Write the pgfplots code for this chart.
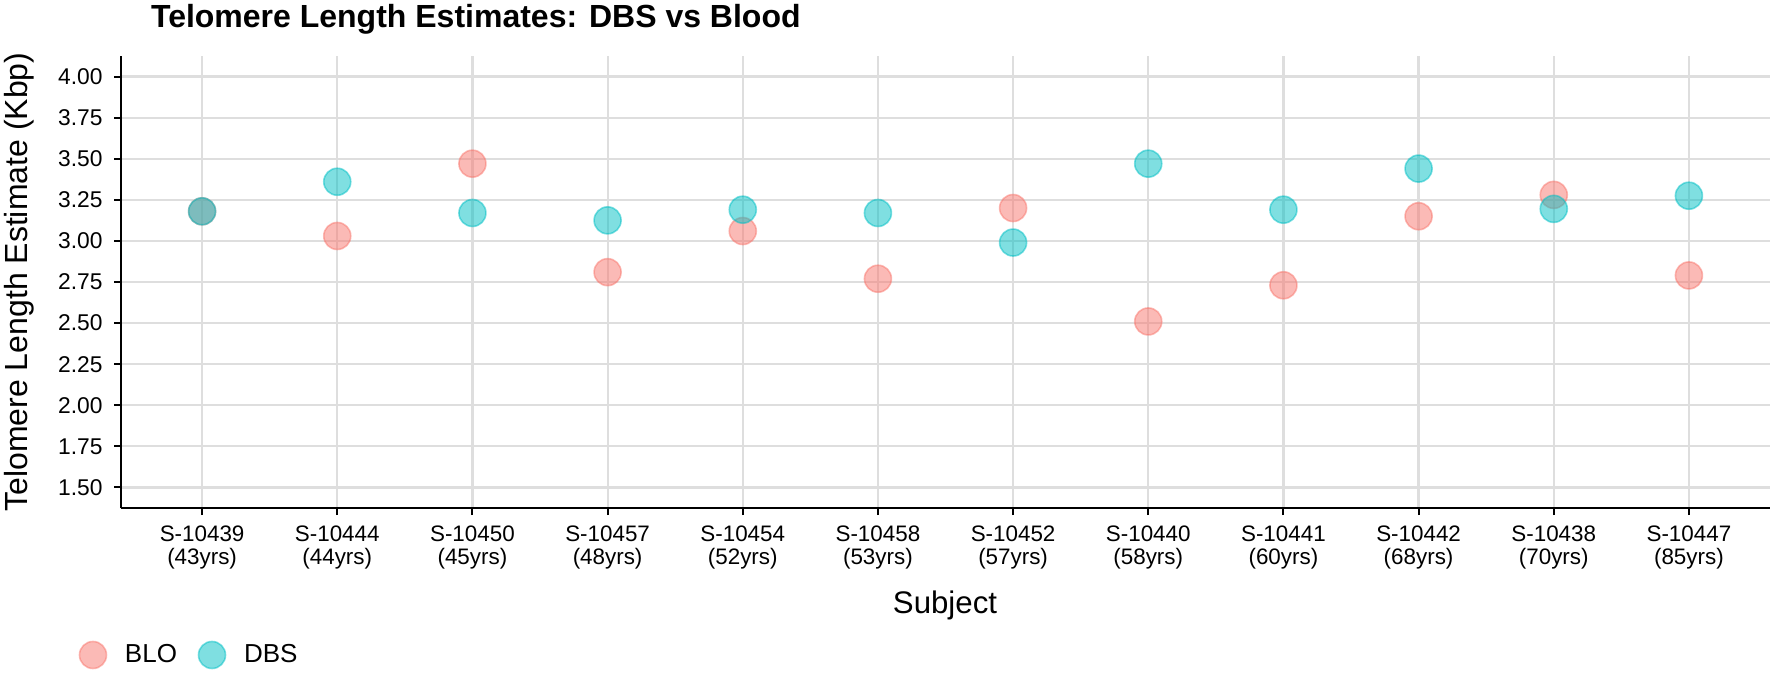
\documentclass[border=0pt]{standalone}
\usepackage{pgfplots}
\pgfplotsset{compat=1.18}
\usepackage{fontspec}
\setmainfont{Liberation Sans}
\definecolor{blo}{HTML}{F8766D}
\definecolor{dbs}{HTML}{00BFC4}
\definecolor{gridgray}{RGB}{222,222,222}
\begin{document}
\begin{tikzpicture}
\useasboundingbox (0,0) rectangle (885pt,-336.5pt);
\begin{axis}[
  at={(60.5pt,-254pt)}, anchor=south west,
  scale only axis, width=824.5pt, height=226pt,
  xmin=-0.6, xmax=11.6, ymin=1.375, ymax=4.125,
  axis x line*=bottom, axis y line*=left,
  axis line style={-, line width=1.1pt, black},
  tick align=outside, major tick length=3.5pt,
  tick style={black, line width=1pt},
  grid=major, major grid style={line width=1.1pt, draw=gridgray},
  xtick={0,1,2,3,4,5,6,7,8,9,10,11},
  xticklabels={{S-10439\\(43yrs)},{S-10444\\(44yrs)},{S-10450\\(45yrs)},{S-10457\\(48yrs)},{S-10454\\(52yrs)},{S-10458\\(53yrs)},{S-10452\\(57yrs)},{S-10440\\(58yrs)},{S-10441\\(60yrs)},{S-10442\\(68yrs)},{S-10438\\(70yrs)},{S-10447\\(85yrs)}},
  xticklabel style={align=center, inner sep=0pt, font=\fontsize{11.2}{11.5}\selectfont},
  xticklabel shift=5pt,
  ytick={1.5,1.75,2,2.25,2.5,2.75,3,3.25,3.5,3.75,4},
  yticklabel style={inner sep=0pt, font=\fontsize{11.4}{13}\selectfont,
    /pgf/number format/fixed, /pgf/number format/fixed zerofill, /pgf/number format/precision=2},
  yticklabel shift=5.5pt,
  /pgf/number format/assume math mode=true,
  legend columns=2,
  legend style={at={(axis description cs:-0.02517,-0.3252)}, anchor=west, draw=none, fill=none,
    inner sep=0pt, outer sep=0pt, nodes={inner sep=0pt}, font=\fontsize{13}{15}\selectfont,
    /tikz/every odd column/.append style={column sep=9.25pt},
    /tikz/every even column/.append style={column sep=10.75pt}},
  legend image code/.code={\draw[#1] plot coordinates {(6.75pt,0pt)};},
  clip=false,
]
\addplot[only marks, mark=*, mark size=6.75pt, mark options={draw=blo, fill=blo, fill opacity=0.5, draw opacity=0.5, line width=0.8pt}]
  coordinates {(0,3.18) (1,3.03) (2,3.47) (3,2.81) (4,3.06) (5,2.77) (6,3.20) (7,2.51) (8,2.73) (9,3.15) (10,3.28) (11,2.79)};
\addlegendentry{BLO}
\addplot[only marks, mark=*, mark size=6.75pt, mark options={draw=dbs, fill=dbs, fill opacity=0.5, draw opacity=0.5, line width=0.8pt}]
  coordinates {(0,3.18) (1,3.36) (2,3.17) (3,3.125) (4,3.19) (5,3.17) (6,2.99) (7,3.47) (8,3.19) (9,3.44) (10,3.195) (11,3.275)};
\addlegendentry{DBS}
\end{axis}
\node[anchor=base west, font=\fontsize{16}{18}\selectfont\bfseries] at (72pt,-14pt) {Telomere Length Estimates: DBS vs Blood};
\node[anchor=base, rotate=90, font=\fontsize{16}{18}\selectfont] at (13.5pt,-141pt) {Telomere Length Estimate (Kbp)};
\node[anchor=base, font=\fontsize{15.6}{18}\selectfont] at (472.5pt,-306.5pt) {Subject};
\end{tikzpicture}
\end{document}
